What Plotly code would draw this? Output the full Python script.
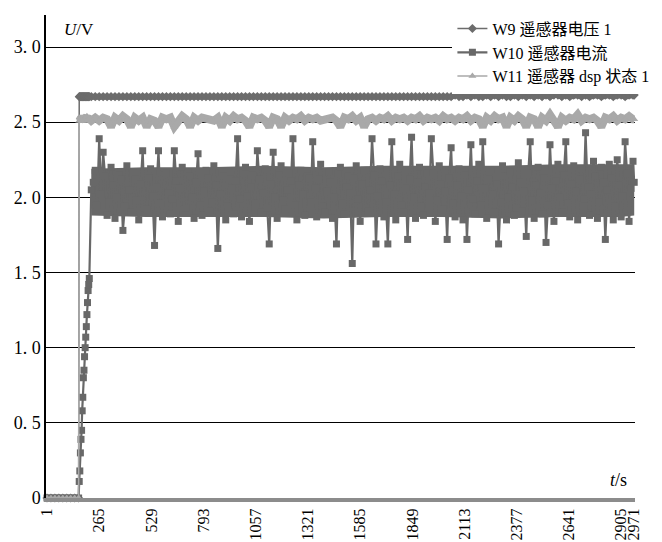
import plotly.graph_objects as go

# ---- sample times (s) ----
t_pre = [1, 21, 41, 61, 81, 101, 121, 141, 161]
t_rise = [164, 167, 170, 173, 176, 179, 182, 185, 188, 191, 194, 197, 200, 203, 206, 209, 212, 215]
t_main = list(range(225, 2966, 20)) + [2971]
t_mid = list(range(235, 2956, 20))

# ---- W9 遥感器电压1 ----
w9_pre = [0, 0, 0, 0, 0, 0, 0, 0, 0]
w9_rise = [2.67, 2.67, 2.67, 2.67, 2.67, 2.67, 2.67, 2.67, 2.67,
           2.67, 2.67, 2.67, 2.67, 2.67, 2.67, 2.67, 2.67, 2.67]
w9_main = [
    2.67, 2.67, 2.67, 2.67, 2.67, 2.67, 2.67, 2.67, 2.67, 2.67,
    2.67, 2.67, 2.67, 2.67, 2.67, 2.67, 2.67, 2.67, 2.67, 2.67,
    2.67, 2.67, 2.67, 2.67, 2.67, 2.67, 2.67, 2.67, 2.67, 2.67,
    2.67, 2.67, 2.67, 2.67, 2.67, 2.67, 2.67, 2.67, 2.67, 2.67,
    2.67, 2.67, 2.67, 2.67, 2.67, 2.67, 2.67, 2.67, 2.67, 2.67,
    2.67, 2.67, 2.67, 2.67, 2.67, 2.67, 2.67, 2.67, 2.67, 2.67,
    2.67, 2.67, 2.67, 2.67, 2.67, 2.67, 2.67, 2.67, 2.67, 2.67,
    2.67, 2.67, 2.67, 2.67, 2.67, 2.67, 2.67, 2.67, 2.67, 2.67,
    2.67, 2.67, 2.67, 2.67, 2.67, 2.67, 2.67, 2.67, 2.67, 2.67,
    2.67, 2.67, 2.68, 2.67, 2.67, 2.68, 2.67, 2.68, 2.67, 2.67,
    2.68, 2.67, 2.68, 2.67, 2.68, 2.67, 2.67, 2.68, 2.67, 2.68,
    2.67, 2.68, 2.67, 2.68, 2.67, 2.68, 2.67, 2.68, 2.68, 2.67,
    2.68, 2.67, 2.68, 2.68, 2.67, 2.68, 2.67, 2.68, 2.68, 2.67,
    2.68, 2.68, 2.67, 2.68, 2.68, 2.67, 2.68, 2.68, 2.68]

# ---- W10 遥感器电流 ----
w10_pre = [0, 0, 0, 0, 0, 0, 0, 0, 0]
w10_rise = [0.11, 0.18, 0.30, 0.39, 0.45, 0.58, 0.67, 0.80, 0.85,
            0.94, 1.00, 1.07, 1.14, 1.22, 1.30, 1.38, 1.42, 1.46]
w10_main = [
    2.05, 2.18, 2.39, 2.30, 1.88, 2.20, 1.86, 2.15, 1.78, 2.21,
    1.90, 2.12, 1.85, 2.31, 1.92, 2.19, 1.68, 2.31, 1.87, 2.16,
    1.89, 2.31, 1.84, 2.20, 1.93, 2.14, 1.86, 2.29, 1.88, 2.18,
    1.91, 2.21, 1.66, 2.17, 1.85, 2.12, 1.89, 2.39, 1.87, 2.20,
    1.84, 2.15, 2.31, 1.90, 2.19, 1.69, 2.30, 1.86, 2.21, 1.92,
    2.16, 2.39, 1.85, 2.18, 1.88, 2.13, 2.37, 1.87, 2.22, 1.90,
    2.17, 1.86, 1.69, 2.20, 1.89, 2.14, 1.56, 2.21, 1.84, 2.18,
    1.91, 2.39, 1.69, 2.19, 1.87, 1.69, 2.37, 1.85, 2.22, 1.90,
    1.72, 2.40, 1.86, 2.20, 1.88, 2.16, 2.39, 1.84, 2.21, 1.92,
    1.72, 2.33, 1.87, 2.19, 1.85, 1.72, 2.35, 1.89, 2.22, 2.37,
    1.86, 2.18, 1.90, 1.69, 2.21, 1.85, 2.17, 1.88, 2.23, 1.91,
    1.74, 2.37, 1.86, 2.20, 1.89, 1.70, 2.35, 1.84, 2.22, 1.90,
    2.37, 1.87, 2.21, 1.85, 2.19, 2.43, 1.88, 2.24, 1.86, 2.20,
    1.72, 2.22, 1.85, 2.25, 1.87, 2.37, 1.84, 2.24, 2.10]
w10_mid = [
    2.10, 1.95, 2.02, 2.14, 1.97, 2.08, 2.00, 2.12, 1.94, 2.05,
    2.16, 1.98, 2.09, 1.93, 2.13, 2.01, 2.07, 1.96, 2.15, 2.03,
    1.99, 2.11, 2.06, 1.92, 2.17, 2.00, 2.10, 1.95, 2.04, 2.13,
    1.97, 2.08, 2.02, 2.14, 1.94, 2.06, 2.11, 1.99, 2.16, 2.01,
    2.07, 1.96, 2.12, 2.03, 1.93, 2.09, 2.00, 2.15, 1.98, 2.05,
    2.11, 1.95, 2.08, 2.02, 2.14, 1.97, 2.06, 2.12, 1.94, 2.04,
    2.10, 2.00, 2.16, 1.96, 2.07, 2.03, 2.13, 1.99, 2.09, 1.93,
    2.05, 2.15, 2.01, 2.11, 1.97, 2.08, 2.02, 2.14, 1.95, 2.06,
    2.12, 2.00, 2.10, 1.94, 2.07, 2.03, 2.16, 1.98, 2.09, 2.04,
    2.13, 1.96, 2.08, 2.01, 2.15, 2.05, 1.99, 2.11, 1.95, 2.06,
    2.12, 2.02, 2.09, 1.97, 2.14, 2.00, 2.07, 1.93, 2.10, 2.04,
    2.16, 1.98, 2.08, 2.03, 2.13, 1.95, 2.06, 2.11, 2.00, 2.15,
    1.96, 2.09, 2.04, 2.12, 1.99, 2.07, 2.02, 2.14, 1.97, 2.10,
    2.05, 2.13, 1.94, 2.08, 2.01, 2.16, 2.06]
# dense core of the W10 trace (where the many samples merge into a solid band)
t_band = [225, 500, 800, 1100, 1400, 1700, 2000, 2300, 2600, 2900, 2971]
w10_band_hi = [2.19, 2.20, 2.20, 2.21, 2.20, 2.21, 2.21, 2.21, 2.22, 2.22, 2.22]
w10_band_lo = [1.88, 1.87, 1.87, 1.87, 1.86, 1.87, 1.87, 1.86, 1.87, 1.87, 1.88]

# ---- W11 遥感器 dsp 状态1 ----
w11_pre = [0, 0, 0, 0, 0, 0, 0, 0, 0]
w11_rise = [2.51, 2.53, 2.51, 2.53, 2.52, 2.53, 2.51, 2.53, 2.52,
            2.52, 2.51, 2.53, 2.52, 2.54, 2.51, 2.53, 2.52, 2.53]
w11_main = [
    2.51, 2.53, 2.51, 2.53, 2.52, 2.47, 2.53, 2.51, 2.54, 2.52,
    2.47, 2.53, 2.51, 2.53, 2.47, 2.52, 2.51, 2.47, 2.53, 2.52,
    2.53, 2.47, 2.51, 2.54, 2.52, 2.47, 2.53, 2.51, 2.53, 2.52,
    2.52, 2.51, 2.53, 2.47, 2.53, 2.51, 2.54, 2.52, 2.53, 2.51,
    2.47, 2.53, 2.52, 2.53, 2.51, 2.47, 2.53, 2.52, 2.47, 2.53,
    2.51, 2.53, 2.52, 2.54, 2.51, 2.53, 2.52, 2.53, 2.51, 2.52,
    2.52, 2.53, 2.51, 2.47, 2.53, 2.52, 2.54, 2.51, 2.53, 2.47,
    2.52, 2.53, 2.51, 2.53, 2.52, 2.54, 2.51, 2.53, 2.52, 2.53,
    2.51, 2.53, 2.52, 2.54, 2.51, 2.53, 2.52, 2.53, 2.51, 2.54,
    2.52, 2.53, 2.51, 2.53, 2.52, 2.54, 2.51, 2.53, 2.52, 2.47,
    2.53, 2.51, 2.54, 2.52, 2.53, 2.47, 2.53, 2.51, 2.54, 2.52,
    2.47, 2.53, 2.52, 2.47, 2.53, 2.51, 2.55, 2.52, 2.47, 2.53,
    2.51, 2.53, 2.52, 2.55, 2.51, 2.53, 2.52, 2.53, 2.51, 2.47,
    2.53, 2.52, 2.54, 2.51, 2.53, 2.52, 2.54, 2.52, 2.52]

# ---- axis ticks ----
x_tickvals = [1, 265, 529, 793, 1057, 1321, 1585, 1849, 2113, 2377, 2641, 2905, 2971]
x_ticktext = [str(v) for v in x_tickvals]
y_tickvals = [0, 0.5, 1.0, 1.5, 2.0, 2.5, 3.0]
y_ticktext = ["0", "0.\u00a05", "1.\u00a00", "1.\u00a05", "2.\u00a00", "2.\u00a05", "3.\u00a00"]

C9, C10, C11 = "#6c6c6c", "#686868", "#a9a9a9"

t_all = t_pre + t_rise + t_main
t_on = t_rise + t_main
y9 = w9_pre + w9_rise + w9_main
y11 = w11_pre + w11_rise + w11_main
w10_pairs = sorted(zip(t_pre + t_rise + t_main + t_mid,
                       w10_pre + w10_rise + w10_main + w10_mid))
t10 = [p[0] for p in w10_pairs]
y10 = [p[1] for p in w10_pairs]

fig = go.Figure()
# solid cores of the densely sampled series
fig.add_trace(go.Scatter(x=t_band, y=w10_band_lo, mode="lines", showlegend=False,
                         hoverinfo="skip", line=dict(color=C10, width=0)))
fig.add_trace(go.Scatter(x=t_band, y=w10_band_hi, mode="lines", showlegend=False,
                         hoverinfo="skip", line=dict(color=C10, width=0),
                         fill="tonexty", fillcolor=C10))
fig.add_trace(go.Scatter(x=t_on, y=w9_rise + w9_main, mode="lines", showlegend=False,
                         hoverinfo="skip", line=dict(color=C9, width=6), cliponaxis=False))
fig.add_trace(go.Scatter(x=t_on, y=w11_rise + w11_main, mode="lines", showlegend=False,
                         hoverinfo="skip", line=dict(color=C11, width=8), cliponaxis=False))

fig.add_trace(go.Scatter(
    x=t_all, y=y9, mode="lines+markers",
    name="W9 遥感器电压 1",
    line=dict(color=C9, width=1.5),
    marker=dict(symbol="diamond", size=7, color=C9),
    cliponaxis=False))
fig.add_trace(go.Scatter(
    x=t10, y=y10, mode="lines+markers",
    name="W10 遥感器电流",
    line=dict(color=C10, width=2.2),
    marker=dict(symbol="square", size=7, color=C10),
    cliponaxis=False))
fig.add_trace(go.Scatter(
    x=t_all, y=y11, mode="lines+markers",
    name="W11 遥感器 dsp 状态 1",
    line=dict(color=C11, width=1.5),
    marker=dict(symbol="triangle-up", size=7, color=C11),
    cliponaxis=False))

# the page body adds an 8 px offset, so the figure is 8 px smaller than the window
fig.update_layout(
    width=654, height=534,
    margin=dict(l=38, r=27, t=7, b=44, autoexpand=False),
    paper_bgcolor="white", plot_bgcolor="white",
    font=dict(family="Liberation Serif, Noto Sans CJK SC", color="black"),
    showlegend=True,
    legend=dict(x=0.69, y=1.007, xanchor="left", yanchor="top", traceorder="normal",
                bgcolor="white", font=dict(size=16, family="Liberation Serif, Noto Sans CJK SC"),
                itemwidth=30, tracegroupgap=0),
    xaxis=dict(range=[-4, 2975], tickvals=x_tickvals, ticktext=x_ticktext,
               tickangle=-90, tickfont=dict(size=16, family="Liberation Serif"),
               showgrid=False, zeroline=False, showline=True, automargin=False,
               linecolor="#8c8c8c", linewidth=4, ticks=""),
    yaxis=dict(range=[0, 3.213], tickvals=y_tickvals, ticktext=y_ticktext,
               tickfont=dict(size=18, family="Liberation Serif"),
               showgrid=True, gridcolor="black", gridwidth=1, automargin=False,
               zeroline=False, showline=True, linecolor="black", linewidth=1.5,
               ticks=""),
    annotations=[
        dict(text="<i>U</i>/V", xref="paper", yref="paper", x=0.027, y=0.993,
             xanchor="left", yanchor="top", showarrow=False,
             font=dict(size=17, family="Liberation Serif")),
        dict(text="<i>t</i>/s", xref="paper", yref="paper", x=0.99, y=0.012,
             xanchor="right", yanchor="bottom", showarrow=False,
             font=dict(size=18, family="Liberation Serif")),
    ],
)

fig.write_html("out.html")
